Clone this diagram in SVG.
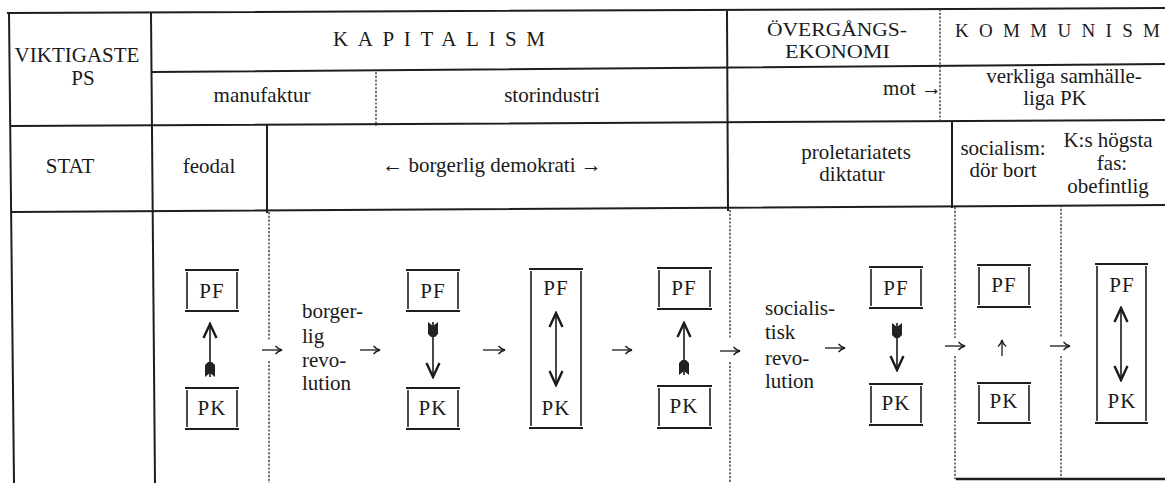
<svg xmlns="http://www.w3.org/2000/svg" width="1165" height="483" viewBox="0 0 1165 483" font-family="Liberation Serif, serif" font-size="21">
<style>
  .bg{fill:#fff}
  .rule{stroke:#1e1e1e;stroke-width:2;fill:none;stroke-linecap:square}
  .dash{stroke:#2a2a2a;stroke-width:1.3;fill:none;stroke-dasharray:2.2 1.6}
  .bx{stroke:#1e1e1e;stroke-width:2;fill:none}
  .bv{stroke:#1e1e1e;stroke-width:1.6;fill:none}
  text{fill:#1a1a1a}
  .c{text-anchor:middle}
  .e{text-anchor:end}
  .sm{font-size:19px}
  .pf{text-anchor:middle;letter-spacing:1px}
  .shaft{stroke:#1a1a1a;stroke-width:1.6;fill:none}
  .flow{stroke:#1a1a1a;stroke-width:1.3;fill:none}
</style>
<defs>
  <marker id="head" viewBox="0 -8 17 16" refX="15" refY="0" markerWidth="17" markerHeight="16" markerUnits="userSpaceOnUse" orient="auto">
    <path d="M1,-6.5 L15,0 L1,6.5" fill="none" stroke="#1a1a1a" stroke-width="2.4" stroke-linejoin="miter"/>
  </marker>
  <marker id="fletch" viewBox="0 -6 16 12" refX="0" refY="0" markerWidth="16" markerHeight="12" markerUnits="userSpaceOnUse" orient="auto">
    <path d="M0,-5 L12,-5 L15,-2 L15,2 L12,5 L0,5 L4,0 Z" fill="#222"/>
  </marker>
  <marker id="small" viewBox="0 -5 9 10" refX="8" refY="0" markerWidth="9" markerHeight="10" markerUnits="userSpaceOnUse" orient="auto">
    <path d="M1.5,-4 Q4,-1 8,0 Q4,1 1.5,4" fill="none" stroke="#1a1a1a" stroke-width="1.3"/>
  </marker>
</defs>
<rect class="bg" x="0" y="0" width="1165" height="483"/>

<g id="grid">
  <line class="rule" x1="8" y1="13" x2="1165" y2="8"/>
  <line class="rule" x1="152" y1="72" x2="1165" y2="64"/>
  <line class="rule" x1="12" y1="126" x2="1165" y2="120"/>
  <line class="rule" x1="13" y1="212" x2="1165" y2="205"/>
  <line class="rule" x1="9" y1="13" x2="14" y2="483"/>
  <line class="rule" x1="151" y1="13" x2="155" y2="483"/>
  <line class="rule" x1="727" y1="12" x2="728" y2="210"/>
  <line class="rule" x1="267" y1="126" x2="267" y2="212"/>
  <line class="rule" x1="952" y1="122" x2="952" y2="207"/>
  <line class="dash" x1="376" y1="72" x2="376" y2="126"/>
  <line class="dash" x1="940" y1="9" x2="940" y2="122"/>
  <path class="dash" d="M269,212 V340 M269,361 V483"/>
  <path class="dash" d="M730,210 V338 M730,362 V483"/>
  <path class="dash" d="M955,207 V338 M955,356 V479"/>
  <path class="dash" d="M1061,205 V338 M1061,356 V479"/>
  <line class="rule" x1="957" y1="479" x2="1165" y2="479" style="stroke-width:2.5"/>
</g>

<g id="h-ps">
  <text class="c" x="77" y="62">VIKTIGASTE</text>
  <text class="c" x="83" y="85">PS</text>
</g>
<g id="h-kapitalism">
  <text x="333" y="46" textLength="212" lengthAdjust="spacing">KAPITALISM</text>
</g>
<g id="h-overgang">
  <text class="sm" x="767" y="36" textLength="140" lengthAdjust="spacingAndGlyphs">ÖVERGÅNGS-</text>
  <text class="sm" x="785" y="58" textLength="105" lengthAdjust="spacingAndGlyphs">EKONOMI</text>
</g>
<g id="h-kommunism">
  <text class="sm" x="955" y="37" textLength="205" lengthAdjust="spacing">KOMMUNISM</text>
</g>
<g id="r-manufaktur"><text class="c" x="262" y="102">manufaktur</text></g>
<g id="r-storindustri"><text class="c" x="552" y="102">storindustri</text></g>
<g id="r-mot"><text class="e" x="942" y="95">mot →</text></g>
<g id="r-verkliga">
  <text class="c" x="1064" y="83">verkliga samhälle-</text>
  <text class="c" x="1055" y="105">liga PK</text>
</g>
<g id="s-stat"><text class="c" x="70" y="173">STAT</text></g>
<g id="s-feodal"><text class="c" x="209" y="173">feodal</text></g>
<g id="s-borgerlig"><text class="c" x="492" y="172">← borgerlig demokrati →</text></g>
<g id="s-proletariat">
  <text class="c" x="856" y="159">proletariatets</text>
  <text class="c" x="852" y="181">diktatur</text>
</g>
<g id="s-socialism">
  <text class="c" x="1003" y="155">socialism:</text>
  <text class="c" x="1003" y="177">dör bort</text>
</g>
<g id="s-hogsta">
  <text class="c" x="1108" y="147">K:s högsta</text>
  <text class="c" x="1112" y="170">fas:</text>
  <text class="c" x="1108" y="193">obefintlig</text>
</g>

<g id="stage1">
  <path class="bx" d="M185,270 H239 M185,311 H239"/>
  <path class="bv" d="M187,272 V309 M237,272 V309"/>
  <text class="pf" x="212" y="298">PF</text>
  <line class="shaft" x1="210" y1="377" x2="210" y2="324" marker-start="url(#fletch)" marker-end="url(#head)"/>
  <path class="bx" d="M185,388 H239 M185,429 H239"/>
  <path class="bv" d="M187,390 V427 M237,390 V427"/>
  <text class="pf" x="212" y="415">PK</text>
</g>
<g id="label-borgerlig">
  <text x="302" y="318">borger-</text>
  <text x="302" y="343">lig</text>
  <text x="302" y="367">revo-</text>
  <text x="302" y="390">lution</text>
</g>
<g id="stage2">
  <path class="bx" d="M406,270 H460 M406,311 H460"/>
  <path class="bv" d="M408,272 V309 M458,272 V309"/>
  <text class="pf" x="433" y="298">PF</text>
  <line class="shaft" x1="433" y1="322" x2="433" y2="377" marker-start="url(#fletch)" marker-end="url(#head)"/>
  <path class="bx" d="M406,388 H460 M406,429 H460"/>
  <path class="bv" d="M408,390 V427 M458,390 V427"/>
  <text class="pf" x="433" y="415">PK</text>
</g>
<g id="stage3">
  <path class="bx" d="M529,269 H583 M529,428 H583"/>
  <path class="bv" d="M531,271 V426 M581,271 V426"/>
  <text class="pf" x="556" y="295">PF</text>
  <line class="shaft" x1="556" y1="349" x2="556" y2="313" marker-end="url(#head)"/>
  <line class="shaft" x1="556" y1="349" x2="556" y2="385" marker-end="url(#head)"/>
  <text class="pf" x="556" y="415">PK</text>
</g>
<g id="stage4">
  <path class="bx" d="M657,268 H712 M657,309 H712"/>
  <path class="bv" d="M659,270 V307 M710,270 V307"/>
  <text class="pf" x="684" y="295">PF</text>
  <line class="shaft" x1="684" y1="375" x2="684" y2="323" marker-start="url(#fletch)" marker-end="url(#head)"/>
  <path class="bx" d="M657,386 H712 M657,428 H712"/>
  <path class="bv" d="M659,388 V426 M710,388 V426"/>
  <text class="pf" x="684" y="413">PK</text>
</g>
<g id="label-socialistisk">
  <text x="765" y="315">socialis-</text>
  <text x="765" y="339">tisk</text>
  <text x="765" y="365">revo-</text>
  <text x="765" y="388">lution</text>
</g>
<g id="stage5">
  <path class="bx" d="M869,267 H923 M869,308 H923"/>
  <path class="bv" d="M871,269 V306 M921,269 V306"/>
  <text class="pf" x="896" y="295">PF</text>
  <line class="shaft" x1="897" y1="323" x2="897" y2="370" marker-start="url(#fletch)" marker-end="url(#head)"/>
  <path class="bx" d="M869,384 H923 M869,425 H923"/>
  <path class="bv" d="M871,386 V423 M921,386 V423"/>
  <text class="pf" x="896" y="410">PK</text>
</g>
<g id="stage6">
  <path class="bx" d="M977,265 H1031 M977,307 H1031"/>
  <path class="bv" d="M979,267 V305 M1029,267 V305"/>
  <text class="pf" x="1004" y="292">PF</text>
  <line class="flow" x1="1002" y1="356" x2="1002" y2="340" marker-end="url(#small)"/>
  <path class="bx" d="M977,383 H1031 M977,423 H1031"/>
  <path class="bv" d="M979,385 V421 M1029,385 V421"/>
  <text class="pf" x="1004" y="408">PK</text>
</g>
<g id="stage7">
  <path class="bx" d="M1095,264 H1148 M1095,423 H1148"/>
  <path class="bv" d="M1097,266 V421 M1146,266 V421"/>
  <text class="pf" x="1122" y="292">PF</text>
  <line class="shaft" x1="1121" y1="344" x2="1121" y2="308" marker-end="url(#head)"/>
  <line class="shaft" x1="1121" y1="344" x2="1121" y2="380" marker-end="url(#head)"/>
  <text class="pf" x="1122" y="408">PK</text>
</g>

<g id="connectors">
  <line class="flow" x1="262" y1="350" x2="282" y2="350" marker-end="url(#small)"/>
  <line class="flow" x1="360" y1="350" x2="380" y2="350" marker-end="url(#small)"/>
  <line class="flow" x1="483" y1="350" x2="505" y2="350" marker-end="url(#small)"/>
  <line class="flow" x1="612" y1="350" x2="632" y2="350" marker-end="url(#small)"/>
  <line class="flow" x1="720" y1="351" x2="740" y2="351" marker-end="url(#small)"/>
  <line class="flow" x1="825" y1="348" x2="845" y2="348" marker-end="url(#small)"/>
  <line class="flow" x1="945" y1="346" x2="965" y2="346" marker-end="url(#small)"/>
  <line class="flow" x1="1050" y1="346" x2="1070" y2="346" marker-end="url(#small)"/>
</g>
</svg>
